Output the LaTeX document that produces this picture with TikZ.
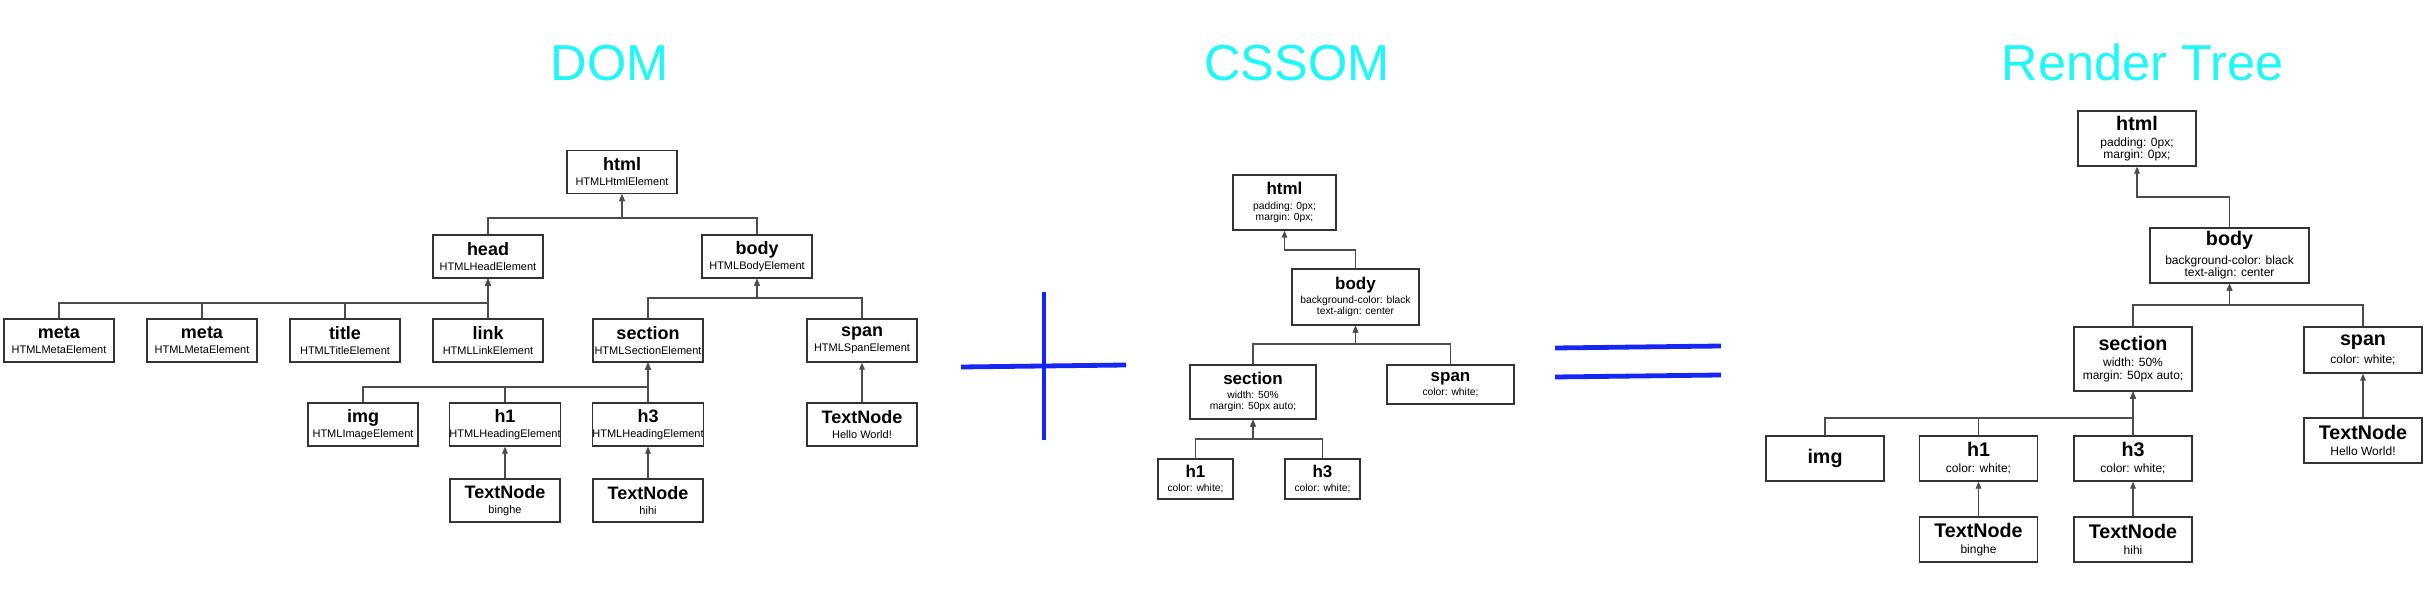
\documentclass[tikz,border=0pt]{standalone}
\usepackage{fontspec}
\setmainfont{Liberation Sans}
\usetikzlibrary{arrows.meta}
\definecolor{ttl}{RGB}{30,248,248}
\definecolor{opblue}{RGB}{22,38,245}
\newcommand{\nmD}[1]{{\fontsize{9}{9}\selectfont\bfseries #1}}
\newcommand{\nmC}[1]{{\fontsize{8.5}{8.5}\selectfont\bfseries #1}}
\newcommand{\nmR}[1]{{\fontsize{9.85}{9.85}\selectfont\bfseries #1}}
\tikzset{
  boxbase/.style={draw=black!80, line width=0.65pt, inner sep=0pt, align=center},
  dbox/.style={boxbase, minimum width=55pt, minimum height=21.5pt, font=\fontsize{5.5}{7.5}\selectfont},
  cbox/.style={boxbase, font=\fontsize{5.15}{5.5}\selectfont},
  rbox/.style={boxbase, minimum width=59pt, font=\fontsize{6}{6.25}\selectfont},
  conn/.style={draw=black!70, line width=0.6pt, -{Triangle[length=3.5pt,width=2.8pt]}},
  ttlstyle/.style={text=ttl, anchor=base, inner sep=0pt, font=\fontsize{25.25}{30}\selectfont},
  opline/.style={draw=opblue, line width=2.4pt}
}
\begin{document}
\begin{tikzpicture}[x=0.5pt,y=-0.5pt]
\useasboundingbox[fill=white] (0,0) rectangle (2436,608);

% titles
\node[ttlstyle] (tdom) at (609.5,81) {DOM};
\node[ttlstyle] (tcss) at (1297,81) {CSSOM};
\node[ttlstyle] (trt) at (2142.5,81) {Render Tree};

% ---------------- DOM ----------------
\node[dbox] (dhtml) at (622,172) {\nmD{html}\\HTMLHtmlElement};
\node[dbox] (dhead) at (488,256.5) {\nmD{head}\\HTMLHeadElement};
\node[dbox] (dbody) at (757,256.5) {\nmD{body}\\HTMLBodyElement};
\node[dbox] (dmeta1) at (59,340.5) {\nmD{meta}\\HTMLMetaElement};
\node[dbox] (dmeta2) at (202,340.5) {\nmD{meta}\\HTMLMetaElement};
\node[dbox] (dtitle) at (345,340.5) {\nmD{title}\\HTMLTitleElement};
\node[dbox] (dlink) at (488,340.5) {\nmD{link}\\HTMLLinkElement};
\node[dbox] (dsection) at (648,340.5) {\nmD{section}\\HTMLSectionElement};
\node[dbox] (dspan) at (862,340.5) {\nmD{span}\\HTMLSpanElement};
\node[dbox] (dimg) at (363,424.5) {\nmD{img}\\HTMLImageElement};
\node[dbox] (dh1) at (505,424.5) {\nmD{h1}\\HTMLHeadingElement};
\node[dbox] (dh3) at (648,424.5) {\nmD{h3}\\HTMLHeadingElement};
\node[dbox] (dtn3) at (862,424.5) {\nmD{TextNode}\\Hello World!};
\node[dbox] (dtn1) at (505,500.5) {\nmD{TextNode}\\binghe};
\node[dbox] (dtn2) at (648,500.5) {\nmD{TextNode}\\hihi};

\coordinate (jd1) at (0,218);
\coordinate (jd2) at (0,303);
\coordinate (jd3) at (0,298);
\coordinate (jd4) at (0,387);
\draw[conn] (dhead.north) -- (dhead.north |- jd1) -| (dhtml.south);
\draw[conn] (dbody.north) -- (dbody.north |- jd1) -| (dhtml.south);
\draw[conn] (dmeta1.north) -- (dmeta1.north |- jd2) -| (dhead.south);
\draw[conn] (dmeta2.north) -- (dmeta2.north |- jd2) -| (dhead.south);
\draw[conn] (dtitle.north) -- (dtitle.north |- jd2) -| (dhead.south);
\draw[conn] (dlink.north) -- (dhead.south);
\draw[conn] (dsection.north) -- (dsection.north |- jd3) -| (dbody.south);
\draw[conn] (dspan.north) -- (dspan.north |- jd3) -| (dbody.south);
\draw[conn] (dimg.north) -- (dimg.north |- jd4) -| (dsection.south);
\draw[conn] (dh1.north) -- (dh1.north |- jd4) -| (dsection.south);
\draw[conn] (dh3.north) -- (dsection.south);
\draw[conn] (dtn3.north) -- (dspan.south);
\draw[conn] (dtn1.north) -- (dh1.south);
\draw[conn] (dtn2.north) -- (dh3.south);

% ---------------- plus / equals ----------------
\draw[opline] (1044,292) -- (1044,440);
\draw[opline] (961,367) -- (1126,365);
\draw[opline] (1555,348) -- (1721,346);
\draw[opline] (1555,377) -- (1721,375);

% ---------------- CSSOM ----------------
\node[cbox, minimum width=51.5pt, minimum height=27.5pt] (chtml) at (1284.5,202.5) {\nmC{html}\\[1.6pt]padding: 0px;\\margin: 0px;};
\node[cbox, minimum width=63.5pt, minimum height=28pt] (cbody) at (1355.5,297) {\nmC{body}\\[1.6pt]background-color: black\\text-align: center};
\node[cbox, minimum width=63pt, minimum height=27pt] (csection) at (1253,392) {\nmC{section}\\[1.6pt]width: 50\%\\margin: 50px auto;};
\node[cbox, minimum width=63.5pt, minimum height=19.5pt] (cspan) at (1450.5,384.5) {\nmC{span}\\[1.6pt]color: white;};
\node[cbox, minimum width=37.5pt, minimum height=20pt] (ch1) at (1195.5,479) {\nmC{h1}\\[1.6pt]color: white;};
\node[cbox, minimum width=37.5pt, minimum height=20pt] (ch3) at (1322.5,479) {\nmC{h3}\\[1.6pt]color: white;};

\coordinate (jc1) at (0,250);
\coordinate (jc2) at (0,344);
\coordinate (jc3) at (0,439);
\draw[conn] (cbody.north) -- (cbody.north |- jc1) -| (chtml.south);
\draw[conn] (csection.north) -- (csection.north |- jc2) -| (cbody.south);
\draw[conn] (cspan.north) -- (cspan.north |- jc2) -| (cbody.south);
\draw[conn] (ch1.north) -- (ch1.north |- jc3) -| (csection.south);
\draw[conn] (ch3.north) -- (ch3.north |- jc3) -| (csection.south);

% ---------------- Render Tree ----------------
\node[rbox, minimum height=27.5pt] (rhtml) at (2137,138.5) {\nmR{html}\\[1.75pt]padding: 0px;\\margin: 0px;};
\node[rbox, minimum width=79.5pt, minimum height=27.5pt] (rbody) at (2229.5,255.5) {\nmR{body}\\[1.75pt]background-color: black\\text-align: center};
\node[rbox, minimum height=32pt] (rsection) at (2133,359) {\nmR{section}\\[1.75pt]width: 50\%\\margin: 50px auto;};
\node[rbox, minimum height=23pt] (rspan) at (2363,350) {\nmR{span}\\[1.75pt]color: white;};
\node[rbox, minimum height=22.5pt] (rimg) at (1825,458.5) {\nmR{img}};
\node[rbox, minimum height=22.5pt] (rh1) at (1978.5,458.5) {\nmR{h1}\\[1.75pt]color: white;};
\node[rbox, minimum height=22.5pt] (rh3) at (2133,458.5) {\nmR{h3}\\[1.75pt]color: white;};
\node[rbox, minimum height=22.5pt] (rtn3) at (2363,440.5) {\nmR{TextNode}\\[1.75pt]Hello World!};
\node[rbox, minimum height=22.5pt] (rtn1) at (1978.5,539.5) {\nmR{TextNode}\\[1.75pt]binghe};
\node[rbox, minimum height=22.5pt] (rtn2) at (2133,539.5) {\nmR{TextNode}\\[1.75pt]hihi};

\coordinate (jr1) at (0,197);
\coordinate (jr2) at (0,305);
\coordinate (jr3) at (0,418);
\draw[conn] (rbody.north) -- (rbody.north |- jr1) -| (rhtml.south);
\draw[conn] (rsection.north) -- (rsection.north |- jr2) -| (rbody.south);
\draw[conn] (rspan.north) -- (rspan.north |- jr2) -| (rbody.south);
\draw[conn] (rimg.north) -- (rimg.north |- jr3) -| (rsection.south);
\draw[conn] (rh1.north) -- (rh1.north |- jr3) -| (rsection.south);
\draw[conn] (rh3.north) -- (rsection.south);
\draw[conn] (rtn3.north) -- (rspan.south);
\draw[conn] (rtn1.north) -- (rh1.south);
\draw[conn] (rtn2.north) -- (rh3.south);
\end{tikzpicture}
\end{document}
